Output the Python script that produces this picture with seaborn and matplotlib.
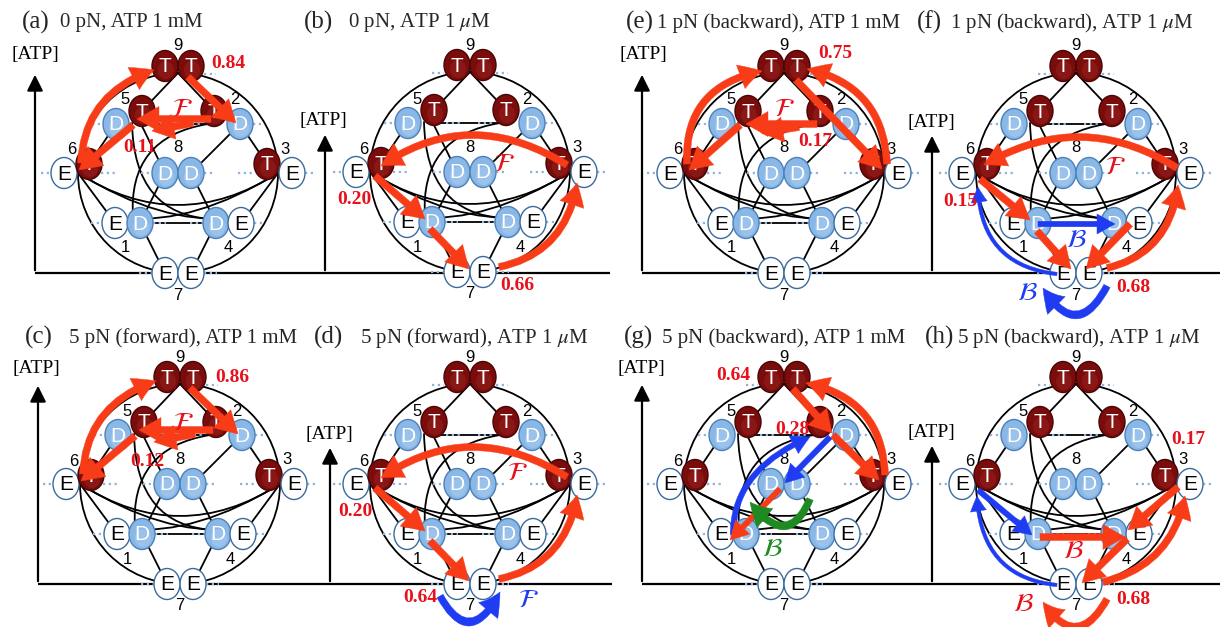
import numpy as np
import matplotlib
matplotlib.use("Agg")
import matplotlib.pyplot as plt
import seaborn as sns
from matplotlib.patches import Ellipse, Circle, FancyArrowPatch, ArrowStyle
from matplotlib.path import Path

sns.set_theme(style="white")
plt.rcParams["font.family"] = ["Liberation Serif", "DejaVu Serif"]
plt.rcParams["mathtext.fontset"] = "stix"

# ---- panel descriptions ----
panel_letters = ["a", "b", "c", "d", "e", "f", "g", "h"]
panel_force = ["0 pN", "0 pN", "5 pN (forward)", "5 pN (forward)",
               "1 pN (backward)", "1 pN (backward)", "5 pN (backward)", "5 pN (backward)"]
panel_atp = ["1 mM", r"1 $\mu$M", "1 mM", r"1 $\mu$M",
             "1 mM", r"1 $\mu$M", "1 mM", r"1 $\mu$M"]

# ---- chemical states: number and nucleotide state of the two heads ----
state_ids = [1, 2, 3, 4, 5, 6, 7, 8, 9]
state_heads = ["ED", "TD", "TE", "DE", "DT", "ET", "EE", "DD", "TT"]

# ---- probabilities of the dominant pathways ----
flux_a = [0.84, 0.11]
flux_b = [0.20, 0.66]
flux_c = [0.86, 0.12]
flux_d = [0.20, 0.64]
flux_e = [0.75, 0.17]
flux_f = [0.15, 0.68]
flux_g = [0.64, 0.28]
flux_h = [0.17, 0.68]

# ---------------------------------------------------------------------------
# layout (pixel canvas, y downwards); network drawn in unit-circle coordinates
R = 100.0
centers = {"a": (178, 173), "b": (470, 172), "e": (784, 173), "f": (1076, 173),
           "c": (180, 484), "d": (470, 484), "g": (784, 484), "h": (1076, 484)}

head_pos = {
    1: [(-0.63, -0.50), (-0.38, -0.50)],
    2: [(0.36, 0.62), (0.62, 0.49)],
    3: [(0.89, 0.09), (1.14, 0.00)],
    4: [(0.38, -0.50), (0.63, -0.50)],
    5: [(-0.62, 0.49), (-0.36, 0.62)],
    6: [(-1.14, 0.00), (-0.89, 0.09)],
    7: [(-0.13, -1.00), (0.13, -1.00)],
    8: [(-0.13, 0.00), (0.13, 0.00)],
    9: [(-0.13, 1.07), (0.13, 1.07)],
}
num_pos = {1: (-0.53, -0.75), 2: (0.57, 0.73), 3: (1.07, 0.24), 4: (0.50, -0.75),
           5: (-0.53, 0.73), 6: (-1.06, 0.23), 7: (0.0, -1.22), 8: (0.0, 0.25),
           9: (0.0, 1.27)}
level_dots = {
    9: (0.99, [(-0.38, -0.26), (0.26, 0.38)]),
    5: (0.49, [(-0.86, -0.75), (-0.24, -0.08)]),
    2: (0.49, [(0.08, 0.24), (0.75, 0.86)]),
    6: (0.00, [(-1.37, -1.27), (-0.77, -0.60)]),
    3: (0.00, [(0.60, 0.77), (1.27, 1.37)]),
    8: (0.00, [(-0.37, -0.26), (0.26, 0.37)]),
    1: (-0.50, [(-0.87, -0.76), (-0.25, -0.12)]),
    4: (-0.50, [(0.12, 0.25), (0.76, 0.87)]),
    7: (-1.00, [(-0.39, -0.26), (0.26, 0.39)]),
}
# transitions of the network: start, end, optional point half-way along the curve
edges = [
    ((0.0, 1.0), (-0.38, 0.60), None),
    ((0.0, 1.0), (0.38, 0.60), None),
    ((-0.62, 0.49), (-0.89, 0.09), None),
    ((0.62, 0.49), (0.89, 0.09), None),
    ((-0.38, 0.49), (0.38, 0.49), None),
    ((-0.40, 0.55), (-0.13, 0.00), None),
    ((0.62, 0.49), (0.13, 0.00), None),
    ((-0.13, 0.00), (-0.38, -0.50), None),
    ((0.13, 0.00), (0.38, -0.50), None),
    ((-0.38, -0.50), (0.38, -0.50), None),
    ((-1.0, 0.0), (-0.63, -0.50), None),
    ((1.0, 0.0), (0.63, -0.50), None),
    ((-0.38, -0.50), (-0.13, -1.00), None),
    ((0.38, -0.50), (0.13, -1.00), None),
    ((-1.0, 0.0), (1.0, 0.0), (0.0, -0.32)),
    ((-1.0, 0.0), (0.52, -0.45), (-0.20, -0.37)),
    ((1.0, 0.0), (-0.52, -0.45), (0.20, -0.37)),
    ((-0.46, 0.50), (0.34, -0.46), (-0.25, -0.20)),
    ((0.30, 0.49), (-0.45, -0.45), (-0.29, 0.19)),
]

RED = "#f83c18"
TXT_RED = "#e8101a"
BLUE = "#1f3cf2"
GREEN = "#1f8a22"
fill = {"T": "#7b0c0c", "D": "#89b7e6", "E": "#ffffff"}
shine = {"T": "#93201d", "D": "#a6cbf0", "E": "#ffffff"}
edge_col = {"T": "#4a0404", "D": "#4d80b8", "E": "#3a6a9c"}
text_col = {"T": "white", "D": "white", "E": "black"}
arrow_sizes = {"main": (7.0, 25, 22), "med": (5.5, 20, 18), "thin": (3.5, 16, 15)}

# dominant pathways drawn on each panel
arrows = {
    "a": [((-0.97, 0.10), (-0.24, 1.03), (-0.77, 0.68), RED, "main"),
          ((0.10, 0.96), (0.58, 0.50), None, RED, "main"),
          ((0.33, 0.54), (-0.41, 0.54), None, RED, "main"),
          ((0.15, 0.50), (-0.26, 0.42), None, RED, "main"),
          ((-0.45, 0.48), (-0.99, 0.03), None, RED, "main")],
    "c": [((-0.97, 0.10), (-0.24, 1.03), (-0.77, 0.68), RED, "main"),
          ((0.10, 0.96), (0.58, 0.50), None, RED, "main"),
          ((0.33, 0.54), (-0.41, 0.54), None, RED, "main"),
          ((0.15, 0.50), (-0.26, 0.42), None, RED, "main"),
          ((-0.45, 0.48), (-0.99, 0.03), None, RED, "main")],
    "b": [((0.97, 0.07), (-0.89, 0.06), (0.02, 0.37), RED, "main"),
          ((-0.95, -0.04), (-0.45, -0.47), None, RED, "main"),
          ((-0.40, -0.57), (-0.01, -0.97), None, RED, "main"),
          ((0.29, -0.95), (1.07, -0.11), (0.82, -0.67), RED, "main")],
    "d": [((0.97, 0.07), (-0.89, 0.06), (0.02, 0.37), RED, "main"),
          ((-0.95, -0.04), (-0.45, -0.47), None, RED, "main"),
          ((-0.40, -0.57), (-0.01, -0.97), None, RED, "main"),
          ((0.29, -0.95), (1.07, -0.11), (0.82, -0.67), RED, "main"),
          ((-0.30, -1.12), (0.30, -1.08), (0.0, -1.38), BLUE, "main")],
    "e": [((-0.97, 0.09), (-0.22, 1.02), (-0.80, 0.71), RED, "main"),
          ((1.03, 0.09), (0.23, 1.04), (0.81, 0.72), RED, "main"),
          ((0.12, 0.93), (0.98, 0.04), None, RED, "main"),
          ((0.33, 0.49), (-0.38, 0.49), None, RED, "main"),
          ((0.15, 0.46), (-0.23, 0.40), None, RED, "main"),
          ((-0.44, 0.48), (-0.95, 0.03), None, RED, "main")],
    "f": [((1.01, 0.05), (-0.92, 0.08), (0.05, 0.36), RED, "main"),
          ((-0.96, -0.06), (-0.46, -0.47), None, RED, "main"),
          ((-0.39, -0.58), (-0.05, -0.96), None, RED, "main"),
          ((0.54, -0.51), (0.10, -0.96), None, RED, "main"),
          ((0.31, -0.95), (1.02, -0.12), (0.80, -0.67), RED, "main"),
          ((-0.38, -0.51), (0.39, -0.51), None, BLUE, "med"),
          ((-0.19, -1.01), (-0.98, -0.14), (-0.77, -0.75), BLUE, "thin"),
          ((0.31, -1.13), (-0.33, -1.15), (0.0, -1.42), BLUE, "main")],
    "g": [((0.09, 0.95), (0.48, 0.51), None, RED, "main"),
          ((0.49, 0.49), (0.95, 0.04), None, RED, "main"),
          ((1.01, 0.09), (0.22, 1.01), (0.80, 0.70), RED, "main"),
          ((0.46, 0.47), (0.01, 0.01), None, BLUE, "med"),
          ((-0.51, -0.51), (0.26, 0.47), (-0.32, 0.06), BLUE, "med"),
          ((-0.04, -0.05), (-0.54, -0.56), None, RED, "med"),
          ((0.26, -0.15), (-0.34, -0.18), (0.0, -0.42), GREEN, "main")],
    "h": [((-0.98, -0.06), (-0.44, -0.51), None, BLUE, "med"),
          ((-0.19, -1.01), (-0.99, -0.12), (-0.77, -0.75), BLUE, "thin"),
          ((-0.36, -0.53), (0.49, -0.53), None, RED, "main"),
          ((1.02, -0.03), (0.52, -0.46), None, RED, "main"),
          ((0.51, -0.55), (0.06, -0.99), None, RED, "main"),
          ((0.27, -0.98), (1.09, -0.12), (0.82, -0.68), RED, "main"),
          ((0.31, -1.15), (-0.33, -1.18), (0.0, -1.43), RED, "main")],
}

F_SCRIPT = r"$\mathcal{F}$"
B_SCRIPT = r"$\mathcal{B}$"
labels = {
    "a": [(f"{flux_a[0]:.2f}", (0.50, 1.10), TXT_RED, "flux"),
          (f"{flux_a[1]:.2f}", (-0.38, 0.25), TXT_RED, "flux"),
          (F_SCRIPT, (0.04, 0.63), TXT_RED, "script")],
    "c": [(f"{flux_c[0]:.2f}", (0.52, 1.07), TXT_RED, "flux"),
          (f"{flux_c[1]:.2f}", (-0.33, 0.22), TXT_RED, "flux"),
          (F_SCRIPT, (0.03, 0.60), TXT_RED, "script")],
    "b": [(f"{flux_b[0]:.2f}", (-1.16, -0.28), TXT_RED, "flux"),
          (f"{flux_b[1]:.2f}", (0.47, -1.13), TXT_RED, "flux"),
          (F_SCRIPT, (0.34, 0.07), TXT_RED, "script")],
    "d": [(f"{flux_d[0]:.2f}", (-1.15, -0.28), TXT_RED, "flux"),
          (f"{flux_d[1]:.2f}", (-0.50, -1.14), TXT_RED, "flux"),
          (F_SCRIPT, (0.47, 0.10), TXT_RED, "script"),
          (F_SCRIPT, (0.58, -1.17), BLUE, "script")],
    "e": [(f"{flux_e[0]:.2f}", (0.51, 1.19), TXT_RED, "flux"),
          (f"{flux_e[1]:.2f}", (0.31, 0.32), TXT_RED, "flux"),
          (F_SCRIPT, (0.00, 0.63), TXT_RED, "script")],
    "f": [(f"{flux_f[0]:.2f}", (-1.16, -0.28), TXT_RED, "flux"),
          (f"{flux_f[1]:.2f}", (0.57, -1.15), TXT_RED, "flux"),
          (F_SCRIPT, (0.39, 0.05), TXT_RED, "script"),
          (B_SCRIPT, (0.00, -0.68), BLUE, "script"),
          (B_SCRIPT, (-0.49, -1.21), BLUE, "script")],
    "g": [(f"{flux_g[0]:.2f}", (-0.51, 1.09), TXT_RED, "flux"),
          (f"{flux_g[1]:.2f}", (0.08, 0.55), TXT_RED, "flux"),
          (B_SCRIPT, (-0.12, -0.66), GREEN, "script")],
    "h": [(f"{flux_h[0]:.2f}", (1.12, 0.45), TXT_RED, "flux"),
          (f"{flux_h[1]:.2f}", (0.57, -1.15), TXT_RED, "flux"),
          (B_SCRIPT, (-0.03, -0.68), TXT_RED, "script"),
          (B_SCRIPT, (-0.53, -1.21), TXT_RED, "script")],
}

# title placement: x of panel letter, x of condition text, y
title_pos = {"a": (22, 60, 22), "b": (304, 348, 22), "e": (626, 657, 22),
             "f": (917, 950, 22), "c": (25, 69, 337), "d": (314, 360, 337),
             "g": (624, 662, 337), "h": (925, 957, 337)}
# [ATP] axis: x, baseline y, arrow tip y, label position
atp_axes = {"a": (35, 273, 72, (35, 55)), "b": (325, 273, 132, (323, 121)),
            "e": (642, 273, 72, (643, 55)), "f": (932, 273, 133, (931, 122)),
            "c": (38, 584, 383, (36, 369)), "d": (330, 584, 445, (329, 434)),
            "g": (642, 584, 382, (641, 368)), "h": (932, 584, 443, (931, 432))}
baselines = [(35, 610, 273), (642, 1220, 273), (38, 612, 584), (642, 1220, 584)]

# ---------------------------------------------------------------------------
fig = plt.figure(figsize=(12.22, 6.27), dpi=100)
ax = fig.add_axes([0, 0, 1, 1])
ax.set_xlim(0, 1222)
ax.set_ylim(627, 0)
ax.axis("off")

PX_PER_PT = 100.0 / 72.0


def to_px(key, uv):
    cx, cy = centers[key]
    return np.array([cx + R * uv[0], cy - R * uv[1]])


def bezier(key, start, end, mid):
    p0 = to_px(key, start)
    p2 = to_px(key, end)
    if mid is None:
        c = 0.5 * (p0 + p2)
    else:
        c = 2.0 * to_px(key, mid) - 0.5 * (p0 + p2)
    return Path([p0, c, p2], [Path.MOVETO, Path.CURVE3, Path.CURVE3])


def draw_arrow(key, start, end, mid, color, size):
    tail, hw, hl = arrow_sizes[size]
    ms = 10.0
    unit = ms * PX_PER_PT
    style = ArrowStyle.Simple(head_length=hl / unit, head_width=hw / unit,
                              tail_width=tail / unit)
    ax.add_patch(FancyArrowPatch(path=bezier(key, start, end, mid), arrowstyle=style,
                                 mutation_scale=ms, facecolor=color, edgecolor=color,
                                 lw=0.3, zorder=6))


# axes and baselines
for x0, x1, y in baselines:
    ax.plot([x0, x1], [y, y], color="black", lw=1.6, zorder=1, solid_capstyle="butt")
for key, (x, yb, yt, lab) in atp_axes.items():
    ax.annotate("", xy=(x, yt), xytext=(x, yb),
                arrowprops=dict(arrowstyle="-|>,head_length=0.6,head_width=0.3",
                                color="black", lw=1.6, mutation_scale=16), zorder=1)
    ax.text(lab[0], lab[1], "[ATP]", fontsize=14, ha="center", va="center", color="black")

for i, key in enumerate(panel_letters):
    # title
    xl, xt, yt = title_pos[key]
    ax.text(xl, yt, f"({key})", fontsize=18, ha="left", va="center")
    ax.text(xt, yt + 1, f"{panel_force[i]}, ATP {panel_atp[i]}", fontsize=15,
            ha="left", va="center")

    # network outline
    cx, cy = centers[key]
    ax.add_patch(Circle((cx, cy), R, fill=False, ec="black", lw=1.3, zorder=1.2))
    for start, end, mid in edges:
        ax.add_patch(FancyArrowPatch(path=bezier(key, start, end, mid), arrowstyle="-",
                                     color="black", lw=1.3, zorder=1.2))
    for sid, (lv, segs) in level_dots.items():
        for u0, u1 in segs:
            p0 = to_px(key, (u0, lv))
            p1 = to_px(key, (u1, lv))
            ax.plot([p0[0], p1[0]], [p0[1], p1[1]], color="#8fb4dc", lw=1.6,
                    ls=(0, (1, 1.6)), zorder=1.5)

    # states
    for sid, heads in zip(state_ids, state_heads):
        for letter, uv in zip(heads, head_pos[sid]):
            x, y = to_px(key, uv)
            ax.add_patch(Ellipse((x, y), 26, 31, facecolor=fill[letter],
                                 edgecolor=edge_col[letter], lw=1.0, zorder=3))
            if letter != "E":
                ax.add_patch(Ellipse((x + 1, y + 4), 16, 18, facecolor=shine[letter],
                                     edgecolor="none", alpha=0.6, zorder=3.1))
            ax.text(x, y + 1, letter, fontsize=15, family="Liberation Sans",
                    color=text_col[letter], ha="center", va="center", zorder=3.5)
        nx, ny = to_px(key, num_pos[sid])
        ax.text(nx, ny, str(sid), fontsize=12, family="Liberation Sans",
                color="black", ha="center", va="center", zorder=4)

    # pathways
    for start, end, mid, color, size in arrows[key]:
        draw_arrow(key, start, end, mid, color, size)

    for txt, uv, color, kind in labels[key]:
        x, y = to_px(key, uv)
        if kind == "flux":
            ax.text(x, y, txt, fontsize=14, fontweight="bold", color=color,
                    ha="center", va="center", zorder=7)
        else:
            ax.text(x, y, txt, fontsize=19, color=color, ha="center", va="center",
                    zorder=7)

fig.savefig("out.png", dpi=100, facecolor="white")
